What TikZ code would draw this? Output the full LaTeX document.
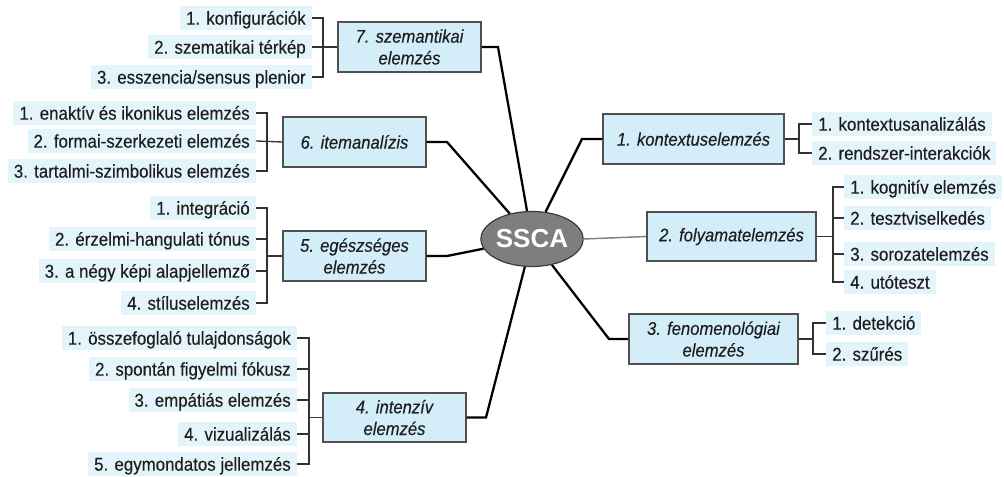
\documentclass[tikz,border=0pt]{standalone}
\usepackage{fontspec}
\setmainfont[FakeStretch=0.91, FakeBold=0.25]{Liberation Sans}
\newfontfamily\hubfont{Liberation Sans}
\usetikzlibrary{shapes.geometric}

\definecolor{boxfill}{HTML}{D3EDF9}
\definecolor{itemfill}{HTML}{E4F4FB}
\definecolor{boxline}{HTML}{505050}
\definecolor{hubfill}{HTML}{7E7E7E}
\definecolor{hubline}{HTML}{3C3C3C}
\definecolor{brk}{HTML}{333333}
\definecolor{ink}{HTML}{1E1E1E}

\tikzset{
  item/.style={fill=itemfill, inner xsep=4.5pt, inner ysep=0pt, text=ink,
    minimum height=17.6pt, text height=10pt, text depth=0pt,
    font=\fontsize{13.9}{16.3}\selectfont},
  litem/.style={item, anchor=east},
  ritem/.style={item, anchor=west},
  topic/.style={draw=boxline, line width=0.8pt, fill=boxfill, align=center,
    inner sep=0pt, text=ink, font=\fontsize{13.7}{16.3}\selectfont\itshape},
  hub/.style={ellipse, draw=hubline, line width=0.9pt, fill=hubfill,
    minimum width=95*0.75pt, minimum height=55*0.75pt, inner sep=0pt,
    text=white, font=\hubfont\fontsize{19.5}{20}\selectfont\bfseries},
  spoke/.style={line width=1.7pt, black},
  thinspoke/.style={line width=1.1pt, black!50},
  brace/.style={line width=1pt, brk},
}

\begin{document}
\begin{tikzpicture}[x=0.75pt, y=-0.75pt]
\useasboundingbox (0,0) rectangle (1004,477);

% central hub
\node[hub] (hub) at (532,239) {SSCA};

% ---- 7. szemantikai elemzés
\node[topic, minimum width=143*0.75pt, minimum height=50*0.75pt] (b7) at (409.5,47) {7. szemantikai\\elemzés};
\node[litem] (i71) at (312,18) {1. konfigurációk};
\node[litem] (i72) at (312,47) {2. szematikai térkép};
\node[litem] (i73) at (312,77) {3. esszencia/sensus plenior};
\coordinate (k71) at (323,18);
\coordinate (k73) at (323,77);
\draw[brace] (i71.east) -- (k71) -- (k73) -- (i73.east);
\draw[brace] (i72.east) -- (b7.west);

% ---- 6. itemanalízis
\node[topic, minimum width=143*0.75pt, minimum height=50*0.75pt] (b6) at (354.5,142) {6. itemanalízis};
\node[litem] (i61) at (256,113) {1. enaktív és ikonikus elemzés};
\node[litem] (i62) at (256,141) {2. formai-szerkezeti elemzés};
\node[litem] (i63) at (256,171) {3. tartalmi-szimbolikus elemzés};
\coordinate (k61) at (267,113);
\coordinate (k63) at (267,171);
\draw[brace] (i61.east) -- (k61) -- (k63) -- (i63.east);
\draw[brace] (i62.east) -- (b6.west);

% ---- 5. egészséges elemzés
\node[topic, minimum width=143*0.75pt, minimum height=50*0.75pt] (b5) at (354.5,256) {5. egészséges\\elemzés};
\node[litem] (i51) at (256,208) {1. integráció};
\node[litem] (i52) at (256,239) {2. érzelmi-hangulati tónus};
\node[litem] (i53) at (256,271) {3. a négy képi alapjellemző};
\node[litem] (i54) at (256,303) {4. stíluselemzés};
\coordinate (k51) at (267,208);
\coordinate (k52) at (267,239);
\coordinate (k53) at (267,271);
\coordinate (k54) at (267,303);
\coordinate (k5m) at (267,256);
\draw[brace] (i51.east) -- (k51) -- (k54) -- (i54.east);
\draw[brace] (i52.east) -- (k52);
\draw[brace] (i53.east) -- (k53);
\draw[brace] (k5m) -- (b5.west);

% ---- 4. intenzív elemzés
\node[topic, minimum width=143*0.75pt, minimum height=49*0.75pt] (b4) at (394.5,417.5) {4. intenzív\\elemzés};
\node[litem] (i41) at (297,338) {1. összefoglaló tulajdonságok};
\node[litem] (i42) at (297,369) {2. spontán figyelmi fókusz};
\node[litem] (i43) at (297,400) {3. empátiás elemzés};
\node[litem] (i44) at (297,434) {4. vizualizálás};
\node[litem] (i45) at (297,464) {5. egymondatos jellemzés};
\coordinate (k41) at (309,338);
\coordinate (k42) at (309,369);
\coordinate (k43) at (309,400);
\coordinate (k44) at (309,434);
\coordinate (k45) at (309,464);
\coordinate (k4m) at (309,417.5);
\draw[brace] (i41.east) -- (k41) -- (k45) -- (i45.east);
\draw[brace] (i42.east) -- (k42);
\draw[brace] (i43.east) -- (k43);
\draw[brace] (i44.east) -- (k44);
\draw[brace] (k4m) -- (b4.west);

% ---- 1. kontextuselemzés
\node[topic, minimum width=181*0.75pt, minimum height=50*0.75pt] (b1) at (693.5,139) {1. kontextuselemzés};
\node[ritem] (i11) at (812,124) {1. kontextusanalizálás};
\node[ritem] (i12) at (812,153) {2. rendszer-interakciók};
\coordinate (k11) at (799,124);
\coordinate (k12) at (799,153);
\coordinate (k1m) at (799,139);
\draw[brace] (i11.west) -- (k11) -- (k12) -- (i12.west);
\draw[brace] (b1.east) -- (k1m);

% ---- 2. folyamatelemzés
\node[topic, minimum width=169*0.75pt, minimum height=49*0.75pt] (b2) at (731.5,236.5) {2. folyamatelemzés};
\node[ritem] (i21) at (844,187) {1. kognitív elemzés};
\node[ritem] (i22) at (844,218) {2. tesztviselkedés};
\node[ritem] (i23) at (844,254) {3. sorozatelemzés};
\node[ritem] (i24) at (844,282) {4. utóteszt};
\coordinate (k21) at (833,187);
\coordinate (k22) at (833,218);
\coordinate (k23) at (833,254);
\coordinate (k24) at (833,282);
\coordinate (k2m) at (833,236.5);
\draw[brace] (i21.west) -- (k21) -- (k24) -- (i24.west);
\draw[brace] (i22.west) -- (k22);
\draw[brace] (i23.west) -- (k23);
\draw[brace] (b2.east) -- (k2m);

% ---- 3. fenomenológiai elemzés
\node[topic, minimum width=169*0.75pt, minimum height=50*0.75pt] (b3) at (713.5,339) {3. fenomenológiai\\elemzés};
\node[ritem] (i31) at (826,323) {1. detekció};
\node[ritem] (i32) at (826,354) {2. szűrés};
\coordinate (k31) at (813,323);
\coordinate (k32) at (813,354);
\coordinate (k3m) at (813,339);
\draw[brace] (i31.west) -- (k31) -- (k32) -- (i32.west);
\draw[brace] (b3.east) -- (k3m);

% ---- spokes from the hub
\coordinate (e7) at (498,47);
\coordinate (e6) at (447,142);
\coordinate (e5) at (447,256);
\coordinate (e4) at (486,417.5);
\coordinate (e1) at (582,139);
\coordinate (e3) at (609,339);
\draw[spoke] (b7.east) -- (e7) -- (hub);
\draw[spoke] (b6.east) -- (e6) -- (hub);
\draw[spoke] (b5.east) -- (e5) -- (hub);
\draw[spoke] (b4.east) -- (e4) -- (hub);
\draw[spoke] (b1.west) -- (e1) -- (hub);
\draw[spoke] (b3.west) -- (e3) -- (hub);
\draw[thinspoke] (hub.east) -- (b2.west);
\end{tikzpicture}
\end{document}
